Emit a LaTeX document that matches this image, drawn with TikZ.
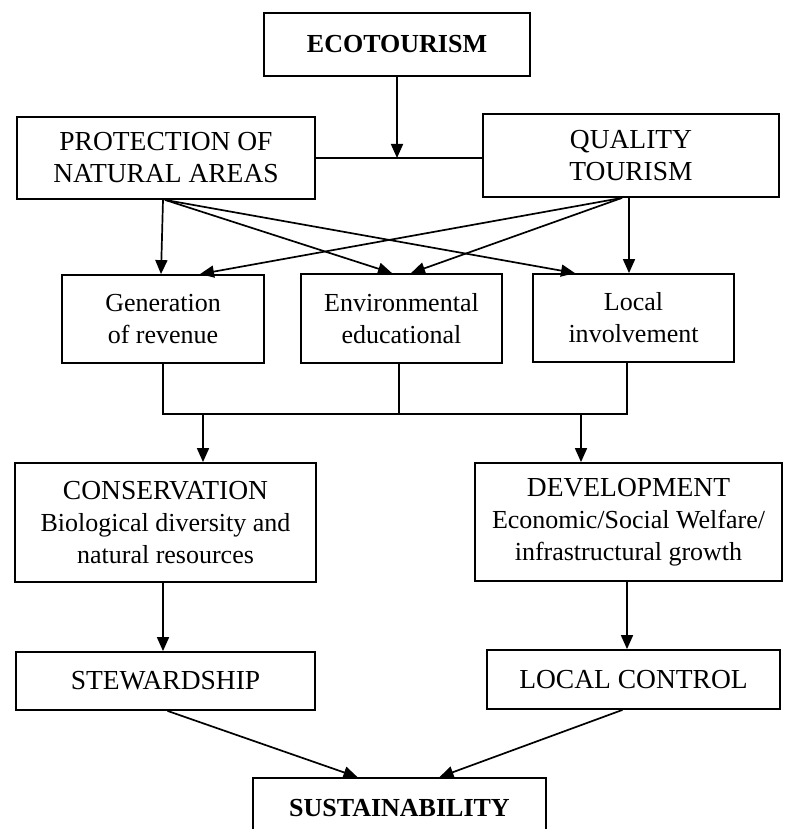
\documentclass[tikz,border=0pt]{standalone}
\usepackage{fontspec}
\setmainfont{Liberation Serif}
\usetikzlibrary{arrows.meta}
\newcommand{\capsize}{\fontsize{27.5}{32}\selectfont}
\begin{document}
\begin{tikzpicture}[x=1pt,y=-1pt,
  box/.style={draw, line width=1.8pt, align=center, inner sep=0pt,
              font=\fontsize{26}{32}\selectfont},
  link/.style={line width=1.7pt},
  arr/.style={link, -{Triangle[length=14pt,width=12pt]}}]
\clip (0,0) rectangle (788,829);
\fill[white] (0,0) rectangle (788,829);

% top level
\node[box, minimum width=266pt, minimum height=63pt] (eco) at (397,44.5) {\bfseries ECOTOURISM};
\node[box, minimum width=298pt, minimum height=82pt, font=\capsize] (prot) at (166,158) {PROTECTION OF\\NATURAL AREAS};
\node[box, minimum width=296pt, minimum height=83pt, font=\capsize] (qual) at (631,155.5) {QUALITY\\TOURISM};

% middle row
\node[box, minimum width=202pt, minimum height=88pt] (gen) at (163,319) {Generation\\of revenue};
\node[box, minimum width=201pt, minimum height=89pt] (env) at (401.5,318.5) {Environmental\\educational};
\node[box, minimum width=201pt, minimum height=88pt] (loc) at (633.5,318) {Local\\involvement};

% outcomes
\node[box, minimum width=301pt, minimum height=119pt] (cons) at (165.5,522.5) {{\capsize CONSERVATION}\\Biological diversity and\\natural resources};
\node[box, minimum width=307pt, minimum height=118pt] (dev) at (628.5,522) {{\capsize DEVELOPMENT}\\Economic/Social Welfare/\\infrastructural growth};
\node[box, minimum width=299pt, minimum height=58pt, font=\capsize] (stew) at (165.5,681) {STEWARDSHIP};
\node[box, minimum width=293pt, minimum height=59pt, font=\capsize] (lctl) at (633.5,679.5) {LOCAL CONTROL};
\node[box, minimum width=293pt, minimum height=60pt] (sust) at (399.5,808) {\bfseries SUSTAINABILITY};

% ecotourism feeds both pillars
\coordinate (j1) at (eco.south |- prot.east);
\draw[link] (prot.east) -- (qual.west |- prot.east);
\draw[arr] (eco.south) -- (j1);

% pillars to the three activities
\coordinate (ps) at ([xshift=-1pt]prot.south);
\coordinate (qs) at ([xshift=-9pt]qual.south);
\draw[arr] ([xshift=-3pt]prot.south) -- ([xshift=-2pt]gen.north);
\draw[arr] (ps) -- ([xshift=-9.5pt]env.north);
\draw[arr] (ps) -- ([xshift=-58.5pt]loc.north);
\draw[arr] ([xshift=-2pt]qual.south) -- ([xshift=-4.5pt]loc.north);
\draw[arr] (qs) -- ([xshift=9.5pt]env.north);
\draw[arr] (qs) -- ([xshift=37pt]gen.north);

% activities joined on a common bus
\coordinate (bus) at (0,414);
\coordinate (busL) at (203,414);
\coordinate (busR) at (581,414);
\draw[link] (gen.south) -- (gen.south |- bus) -- ([xshift=-6.5pt]loc.south |- bus) -- ([xshift=-6.5pt]loc.south);
\draw[link] ([xshift=-2.5pt]env.south) -- ([xshift=-2.5pt]env.south |- bus);
\draw[arr] (busL) -- (busL |- cons.north);
\draw[arr] (busR) -- (busR |- dev.north);

% outcomes to control and sustainability
\draw[arr] ([xshift=-2.5pt]cons.south) -- ([xshift=-2.5pt]stew.north);
\draw[arr] ([xshift=-1.5pt]dev.south) -- ([xshift=-6.5pt]lctl.north);
\draw[arr] ([xshift=2pt]stew.south) -- ([xshift=-42pt]sust.north);
\draw[arr] ([xshift=-11pt]lctl.south) -- ([xshift=40pt]sust.north);
\end{tikzpicture}
\end{document}
